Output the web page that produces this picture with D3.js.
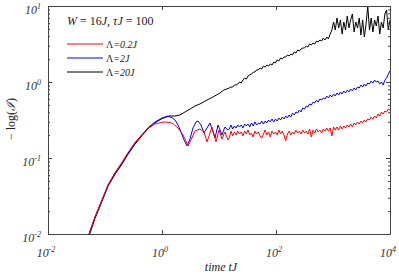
<!DOCTYPE html>
<html><head><meta charset="utf-8">
<script src="https://cdn.jsdelivr.net/npm/d3@7"></script>
<style>body{margin:0;background:#fff}svg{display:block}</style>
</head><body>
<svg id="chart" width="399" height="274"></svg>
<script>
// ---- data ----
const xTickExponents = [-2, 0, 2, 4];
const yTickExponents = [-2, -1, 0, 1];
const seriesNames = ["0.2J", "2J", "20J"];
const seriesColors = ["#ff0000", "#0000ff", "#000000"];

// early (t, value) samples per series
const redEarlyTime = [0.0524,0.0668,0.0885,0.113,0.150,0.199,0.254,0.336,0.446,0.568,0.753,0.95,1.13,1.50,1.91,2.34,2.53,2.86,3.23,3.79,4.64,5.46,6.16,7.54,8.85,10.0,11.3,12.7,14.4];
const redEarlyValue = [0.0100,0.0168,0.0280,0.0442,0.0640,0.0880,0.118,0.160,0.203,0.245,0.280,0.292,0.298,0.289,0.248,0.201,0.178,0.144,0.173,0.226,0.241,0.220,0.163,0.256,0.163,0.233,0.178,0.220,0.173];
const blueEarlyTime = [0.0524,0.0668,0.0885,0.113,0.150,0.199,0.254,0.336,0.446,0.568,0.753,1.0,1.25,1.50,1.69,1.91,2.15,2.43,2.75,3.10,3.50,3.95,4.28,4.83,5.46,6.95,8.51,9.60,11.3,12.7,14.4];
const blueEarlyValue = [0.0100,0.0168,0.0280,0.0440,0.0632,0.0860,0.116,0.157,0.203,0.250,0.298,0.336,0.355,0.340,0.316,0.272,0.220,0.173,0.144,0.178,0.248,0.298,0.307,0.272,0.213,0.289,0.183,0.272,0.201,0.256,0.233];
const blackEarlyTime = [0.054,0.0668,0.0885,0.113,0.150,0.199,0.254,0.336,0.446,0.568,0.753,1.0,1.33,1.69,2.07,2.53,3.10,3.79,4.64,6.16,7.85,10.4,12.2];
const blackEarlyValue = [0.0100,0.0160,0.0268,0.0425,0.0610,0.0830,0.112,0.152,0.197,0.243,0.290,0.330,0.357,0.357,0.368,0.403,0.441,0.483,0.514,0.579,0.636,0.716,0.785];

// late samples: log10(tJ) grid shared by all series
const lateLogTime = [1.18,1.21,1.24,1.27,1.30,1.33,1.36,1.39,1.42,1.45,
1.48,1.51,1.54,1.57,1.60,1.63,1.66,1.69,1.72,1.75,
1.78,1.81,1.84,1.87,1.90,1.93,1.96,1.99,2.02,2.05,
2.08,2.11,2.14,2.17,2.20,2.23,2.26,2.29,2.32,2.35,
2.38,2.41,2.44,2.47,2.50,2.53,2.56,2.59,2.62,2.65,
2.68,2.71,2.74,2.77,2.80,2.83,2.86,2.89,2.92,2.95,
2.98,3.01,3.04,3.07,3.10,3.13,3.16,3.19,3.22,3.25,
3.28,3.31,3.34,3.37,3.40,3.43,3.46,3.49,3.52,3.55,
3.58,3.61,3.64,3.67,3.70,3.73,3.76,3.79,3.82,3.85,
3.88,3.91,3.94,3.97,4.00];
const redLate = [0.183,0.226,0.195,0.220,0.201,0.226,0.207,0.220,0.195,0.226,
0.207,0.233,0.201,0.213,0.189,0.226,0.207,0.220,0.195,0.183,
0.207,0.233,0.201,0.220,0.189,0.226,0.207,0.220,0.201,0.233,
0.207,0.226,0.201,0.168,0.207,0.226,0.201,0.220,0.207,0.233,
0.213,0.226,0.207,0.233,0.213,0.226,0.207,0.241,0.189,0.233,
0.213,0.241,0.220,0.233,0.213,0.241,0.226,0.248,0.226,0.248,
0.195,0.256,0.233,0.256,0.233,0.264,0.241,0.264,0.248,0.272,
0.256,0.280,0.256,0.289,0.272,0.298,0.280,0.307,0.289,0.316,
0.298,0.326,0.316,0.346,0.326,0.357,0.336,0.379,0.357,0.403,
0.379,0.415,0.403,0.441,0.428];
const blueLate = [0.241,0.272,0.241,0.264,0.248,0.272,0.256,0.272,0.248,0.280,
0.264,0.280,0.256,0.289,0.264,0.298,0.272,0.289,0.280,0.307,
0.280,0.307,0.289,0.316,0.298,0.326,0.298,0.326,0.307,0.336,
0.316,0.346,0.326,0.357,0.336,0.368,0.346,0.391,0.368,0.403,
0.391,0.428,0.403,0.455,0.441,0.483,0.469,0.514,0.498,0.545,
0.530,0.579,0.545,0.597,0.579,0.616,0.597,0.654,0.616,0.674,
0.636,0.695,0.654,0.716,0.674,0.739,0.695,0.762,0.716,0.785,
0.739,0.809,0.762,0.834,0.785,0.859,0.834,0.913,0.859,0.941,
0.886,0.970,0.941,1.03,0.970,1.06,1.00,1.03,0.941,1.00,
0.913,1.06,1.13,1.27,1.40];
const blackLate = [0.834,0.859,0.859,0.913,0.913,0.941,1.00,0.970,1.06,1.13,
1.09,1.20,1.24,1.27,1.35,1.35,1.44,1.44,1.53,1.48,
1.62,1.57,1.67,1.62,1.73,1.67,1.83,1.78,1.95,1.89,
2.07,2.01,2.13,2.13,2.27,2.20,2.33,2.27,2.48,2.41,
2.64,2.56,2.72,2.80,2.80,2.98,2.89,3.16,3.07,3.26,
3.16,3.46,3.36,3.57,3.46,3.79,3.57,3.91,3.68,4.28,
4.83,6.16,4.83,6.95,5.14,6.55,4.28,6.16,4.83,7.39,
5.14,6.55,7.85,4.55,6.16,5.14,6.95,4.15,6.55,3.91,
5.79,10.0,4.83,6.95,4.55,6.55,5.46,7.39,4.28,6.16,
5.14,7.85,8.85,4.83,6.55];

// ---- build ----
const svg = d3.select("#chart");
const L = 48, R = 390, T = 6, B = 234;
const x = d3.scaleLog().domain([1e-2, 1e4]).range([L, R]);
const y = d3.scaleLog().domain([1e-2, 1e1]).range([B, T]);
const axisColor = "#444";
const serif = "'Liberation Serif','DejaVu Serif',serif";

svg.append("defs").append("clipPath").attr("id", "clip")
  .append("rect").attr("x", L).attr("y", T).attr("width", R - L).attr("height", B - T);

function build(earlyT, earlyV, late) {
  const pts = earlyT.map((t, i) => ({t, v: earlyV[i]}));
  lateLogTime.forEach((e, i) => pts.push({t: Math.pow(10, e), v: late[i]}));
  return pts;
}
const series = [
  build(redEarlyTime, redEarlyValue, redLate),
  build(blueEarlyTime, blueEarlyValue, blueLate),
  build(blackEarlyTime, blackEarlyValue, blackLate)
];
const line = d3.line().x(d => x(d.t)).y(d => y(d.v));
const plot = svg.append("g").attr("clip-path", "url(#clip)");
[2, 1, 0].forEach(i => {
  plot.append("path").datum(series[i]).attr("d", line)
    .attr("fill", "none").attr("stroke", seriesColors[i]).attr("stroke-width", 1)
    .attr("stroke-linejoin", "round");
});

// axes
const xMajor = xTickExponents.map(e => Math.pow(10, e));
const yMajor = yTickExponents.map(e => Math.pow(10, e));
const yMinor = [];
yTickExponents.slice(0, -1).forEach(e => { for (let k = 2; k <= 9; k++) yMinor.push(k * Math.pow(10, e)); });

function styleAxis(g) {
  g.selectAll("path.domain").attr("stroke", axisColor).attr("stroke-width", 1);
  g.selectAll(".tick line").attr("stroke", axisColor);
  g.selectAll(".tick text").remove();
}
svg.append("g").attr("transform", `translate(0,${B})`)
  .call(d3.axisBottom(x).tickValues(xMajor).tickSize(-4).tickSizeOuter(0)).call(styleAxis);
svg.append("g").attr("transform", `translate(0,${T})`)
  .call(d3.axisTop(x).tickValues(xMajor).tickSize(-4).tickSizeOuter(0)).call(styleAxis);
svg.append("g").attr("transform", `translate(${L},0)`)
  .call(d3.axisLeft(y).tickValues(yMajor).tickSize(-4).tickSizeOuter(0)).call(styleAxis);
svg.append("g").attr("transform", `translate(${L},0)`)
  .call(d3.axisLeft(y).tickValues(yMinor).tickSize(-2).tickSizeOuter(0)).call(styleAxis);
svg.append("g").attr("transform", `translate(${R},0)`)
  .call(d3.axisRight(y).tickValues(yMajor).tickSize(-4).tickSizeOuter(0)).call(styleAxis);
svg.append("g").attr("transform", `translate(${R},0)`)
  .call(d3.axisRight(y).tickValues(yMinor).tickSize(-2).tickSizeOuter(0)).call(styleAxis);

// tick labels
function powLabel(sel, e) {
  sel.append("tspan").text("10");
  sel.append("tspan").attr("dy", -5).attr("font-size", 8).text(String(e));
}
xTickExponents.forEach(e => {
  svg.append("text").attr("x", x(Math.pow(10, e)) - 2).attr("y", 257)
    .attr("text-anchor", "middle").attr("font-family", serif).attr("font-style", "italic")
    .attr("font-size", 12).attr("fill", "#333").call(powLabel, e);
});
yTickExponents.forEach(e => {
  svg.append("text").attr("x", 41).attr("y", y(Math.pow(10, e)) + 8)
    .attr("text-anchor", "end").attr("font-family", serif).attr("font-style", "italic")
    .attr("font-size", 12).attr("fill", "#333").call(powLabel, e);
});

// axis titles
svg.append("text").attr("x", 221).attr("y", 271).attr("text-anchor", "middle")
  .attr("font-family", serif).attr("font-style", "italic").attr("font-size", 12)
  .attr("fill", "#222").text("time tJ");
const yt = svg.append("text").attr("transform", "translate(15,119) rotate(-90)")
  .attr("text-anchor", "middle").attr("font-family", serif).attr("font-size", 12).attr("fill", "#222");
yt.append("tspan").text("− log(");
yt.append("tspan").attr("font-style", "italic").text("ℐ");
yt.append("tspan").text(")");

// annotation
const ann = svg.append("text").attr("x", 67).attr("y", 25).attr("font-family", serif)
  .attr("font-size", 12).attr("fill", "#222");
ann.append("tspan").attr("font-style", "italic").text("W");
ann.append("tspan").text(" = 16");
ann.append("tspan").attr("font-style", "italic").text("J");
ann.append("tspan").text(", ");
ann.append("tspan").attr("font-style", "italic").text("τJ");
ann.append("tspan").text(" = 100");

// legend
const legendY = [44, 58, 72];
seriesNames.forEach((n, i) => {
  svg.append("line").attr("x1", 67).attr("x2", 103).attr("y1", legendY[i]).attr("y2", legendY[i])
    .attr("stroke", seriesColors[i]).attr("stroke-width", 1);
  const t = svg.append("text").attr("x", 106).attr("y", legendY[i] + 3.5)
    .attr("font-family", serif).attr("font-size", 10).attr("fill", "#222");
  t.append("tspan").text("Λ");
  t.append("tspan").attr("font-style", "italic").text("=" + n);
});
</script>
</body></html>
